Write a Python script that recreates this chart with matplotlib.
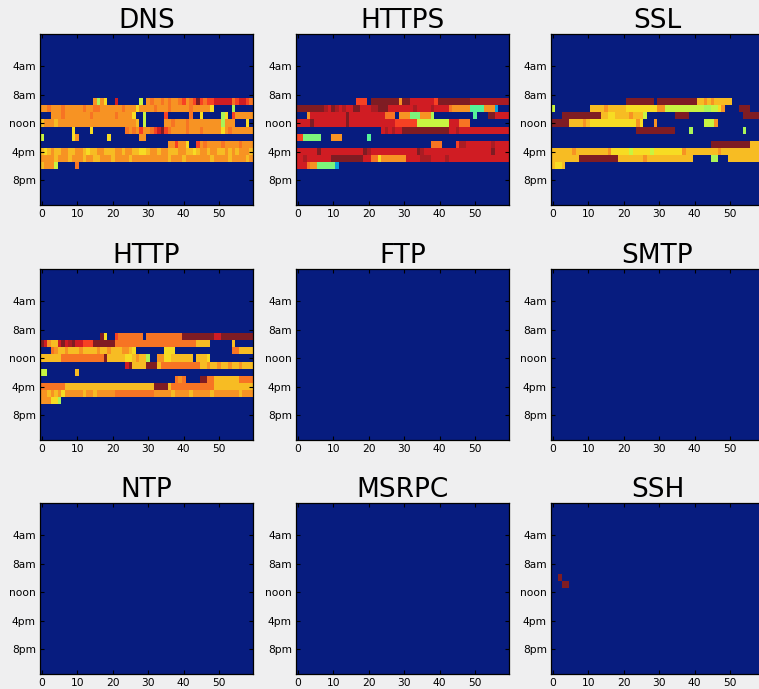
import numpy as np
import matplotlib
matplotlib.use('Agg')
import matplotlib.pyplot as plt
from matplotlib.colors import ListedColormap

protocols = ['DNS', 'HTTPS', 'SSL', 'HTTP', 'FTP', 'SMTP', 'NTP', 'MSRPC', 'SSH']

hour_ticks = [4, 8, 12, 16, 20]
hour_labels = ['4am', '8am', 'noon', '4pm', '8pm']
minute_ticks = [0, 10, 20, 30, 40, 50]

# colour level of each code letter, '.' = no traffic
levels = {'.': 0.0, 'F': 0.28, 'I': 0.45, 'J': 0.5, 'K': 0.56, 'L': 0.6, 'M': 0.67,
          'N': 0.71, 'O': 0.76, 'P': 0.8, 'Q': 0.86, 'R': 0.925, 'S': 0.96, 'T': 1.0}

# rows below are hours 9..18 (60 minutes each), all other hours are empty
first_hour = 9

dns = [
    ".......... .....OKOM. .R......L. OPOOPOPOOP QOPQTQPQQR RRRRPQRRQP",
    "OOPOOOPOOO OOPOOPPOOO OOOPOOOMOO OOPOOOPOOO OOPOOOOOM. ....K.....",
    "...OOOPOOO OOOOPOOOOO OPOOOOM..L .....Q.... ..P..M.... .KM.QOOOOO",
    "NOOONOOOOO OOOOOOOOOO OOOOOOON.L .....OOPOO OPOOOOOOOO OKOOO...M.",
    ".........M ....M..... ....POPOQO OPQRTQPOOO OPOOOPOOOO OMOPOOOOOO",
    "L........M O........M ........OO .......... .......... ..........",
    ".......... .......... .......... ......OOQO OM..QOPOOO OPOOOOPOOO",
    "NMNONNOONN OONMNNOONN NOONOONNMM NOONOONNNO ONNMNOONOO NNONONOOON",
    "OOOONOOONO OONOONNOOO NOOOONOOOO OOOOOONOOO NOOOOOOONO OOONOOOONO",
    "NOOOL..... P......... .......... .......... .......... ..........",
]

https = [
    ".......... .......QQQ .TTTTTTTTO TTRRRRRRRQ TTTTTTTTTS SSSSSSSSSS",
    "TTTTTTTTSR TSRSRRTTRR RSSTTTRRRR RRRSRRRRSR RRRPOOOOOI IIIOOOF...",
    "...ORRRRRR RRRRTRRRRR RRRRRPPP.O OOJJJOOOK. .......... I...TTRRRR",
    "RRRRTRRRRR RRRRTRRRRR RRRRRRRRQQ QQQQLLLLLL LLLRRRPPP. ..........",
    ".......... .......... ....RSRSRR TTTTTTTTTT TTTRRSRRRR RRRRRRRRRR",
    "QQJJJJJ... OOO....... I......... .......... .......... ..........",
    ".......... .......... .......... ........PP P....QSSRR RRRRRSRRRR",
    "RRRRRRTRRR RRRRRRRRRT SRRRRRRRRR RRRRTSRRRR RRRRRRRRRR RRRRRTRRRR",
    "RRSRRRRRRR TTTTTTTTTR RPPMOOOOOO ORRRRSSSRR RRSRRRRRRR RRRRRRRRRR",
    "RRRPOOJJJJ JF........ .......... .......... .......... ..........",
]

ssl = [
    ".......... .......... .TTTTTTTT. TTTTTTTTTT TNNONONNNN N.........",
    "L......... .NNNNONNNN NMMMMMMMMM OOLLLLLLLL LLLKKLLMO. ...TTT....",
    "...TTTTTTT TTTTNNMMNN NNONNNL... .....TTTT. .......... ....TTTTTT",
    "TTTTTNNNNO NMMMMMMMMM MMMMOM...O .......... ...LLLO... ..........",
    ".......... .......... ....TTTTTT TTTTT....K .......... ....K.....",
    ".......... .......... .......... .......... .......... ..........",
    ".......... .......... .......... .......... .....TTTTT TTTTTTNNNN",
    "NNNNNNONNN NNNNNNOMMM MMLMMMMMLM MMMMMMMONN NNNNNNNONN NNNNNNNNNN",
    "NNNNNNNNTT TTTTTTTTTN NNNNNNONNN NNNNNNNNNN .....KK... NNNNNNNNNN",
    "NMMN...... .......... .......... .......... .......... ..........",
]

http = [
    ".......... .......TM. .QPPPPPPP. PPPPPPPPPP TTTTTTTTTR RTTTTTTTTT",
    "TRONNRTRST RRQQQTTTTT TPPPPPPPPP PPPPPPPPPP PPPPNNNN.. ....N.....",
    "...PONNONN NONNNNONNO NNNOONM... .....MMM.. .......... ....PPNNNN",
    "NNNNNNPPPP PPPPPPPPTN NNNNMMNONN K..OOMMNNN NNN.NNNM.. ..........",
    ".......... .......... ....RTNNNN TTTNPPPPPP PPPPPNNONN ONNONNONNN",
    "LL........ N......... .......... .......... .......... ..........",
    ".......... .......... .......... ........PO P....TTPPN NNNNNNPPPP",
    "PPPPPPPNNN NNNNNNNNNN NNNNNNNNNN NNTTTTNPPP PPPPPPPPPN NNNNNNNNNN",
    "OONONOMOOO OONOONOOOO OPPPPPPPPP PPOOOOONOO OONOOOOONO OOOOOONOOO",
    "OOOMMK.... .......... .......... .......... .......... ..........",
]

ssh = [
    ".......... .......... .......... .......... .......... ..........",
    "..T....... .......... .......... .......... .......... ..........",
    "...TT..... .......... .......... .......... .......... ..........",
]

traffic = {'DNS': dns, 'HTTPS': https, 'SSL': ssl, 'HTTP': http, 'SSH': ssh}


def to_grid(rows):
    grid = np.zeros((24, 60))
    for i, row in enumerate(rows):
        cells = row.replace(' ', '').ljust(60, '.')[:60]
        grid[first_hour + i] = [levels[c] for c in cells]
    return grid


# jet, slightly washed out like the screenshot
rgb = plt.get_cmap('jet')(np.linspace(0, 1, 256))[:, :3]
rgb = np.clip(rgb * [0.94, 0.85, 0.72] + [0.03, 0.11, 0.14], 0, 1)
cmap = ListedColormap(rgb)

W, H = 759, 689
fig = plt.figure(figsize=(W / 100, H / 100), dpi=100, facecolor='#efeff0')

# panel boxes in pixels (left / top edges), panels run off the right side
lefts = [40, 296, 551]
tops = [34, 269, 503]
pw, ph = 213, 171

for i, name in enumerate(protocols):
    r, c = divmod(i, 3)
    ax = fig.add_axes([lefts[c] / W, 1 - (tops[r] + ph) / H, pw / W, ph / H])
    ax.imshow(to_grid(traffic.get(name, [])), cmap=cmap, vmin=0, vmax=1,
              aspect='auto', interpolation='nearest')
    ax.set_title(name, fontsize=19, pad=4)
    ax.set_xticks(minute_ticks)
    ax.set_yticks(hour_ticks, hour_labels)
    ax.tick_params(direction='in', top=True, right=True, labelsize=7.7,
                   length=3, pad=3)
    for sp in ax.spines.values():
        sp.set_linewidth(0.9)

fig.savefig('out.png', dpi=100, facecolor=fig.get_facecolor())
